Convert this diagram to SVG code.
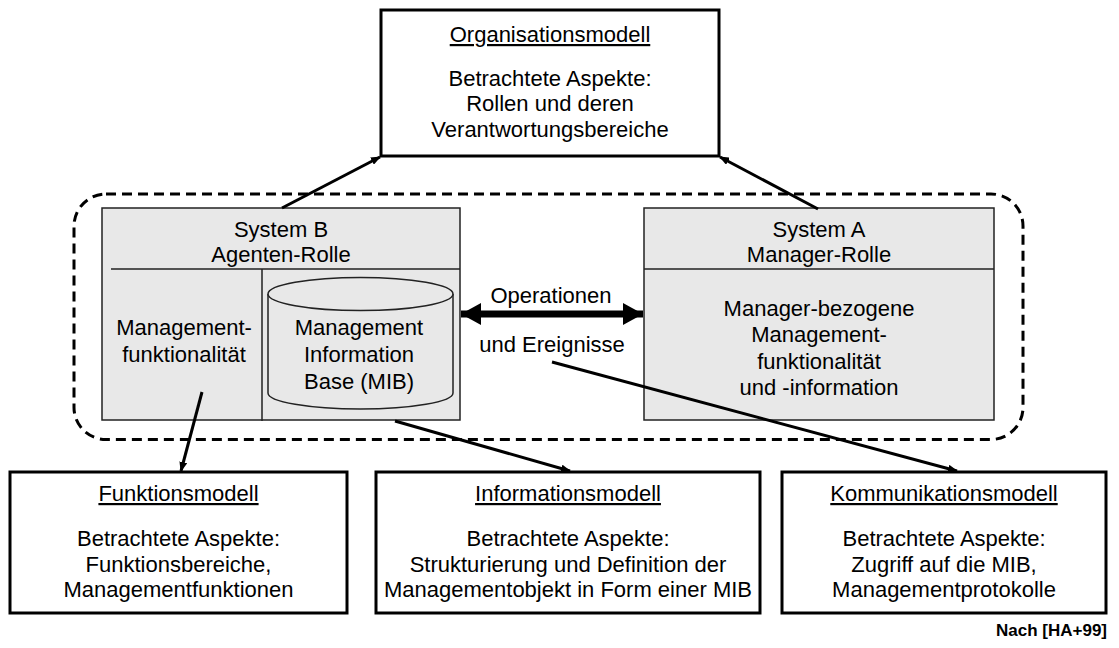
<svg xmlns="http://www.w3.org/2000/svg" width="1119" height="648" viewBox="0 0 1119 648">
  <style>
    text { font-family: "Liberation Sans", Arial, sans-serif; font-size: 22px; fill: #000; text-anchor: middle; }
    .title { text-decoration: underline; }
    .model { fill: #fff; stroke: #000; stroke-width: 3; }
    .system { fill: #e8e8e8; stroke: #222; stroke-width: 1.5; }
    .divider { stroke: #222; stroke-width: 1.5; fill: none; }
    .link { stroke: #000; stroke-width: 3; fill: none; }
    .source { font-size: 17px; font-weight: bold; text-anchor: end; }
  </style>
  <defs>
    <marker id="tip" viewBox="0 0 10 8" refX="9" refY="4" markerWidth="10" markerHeight="8" markerUnits="userSpaceOnUse" orient="auto">
      <path d="M0,0 L10,4 L0,8 Z" fill="#000"/>
    </marker>
    <marker id="bigtip" viewBox="0 0 20 22" refX="20" refY="11" markerWidth="20" markerHeight="22" markerUnits="userSpaceOnUse" orient="auto-start-reverse">
      <path d="M0,0 L20,11 L0,22 Z" fill="#000"/>
    </marker>
  </defs>

  <!-- management domain boundary -->
  <rect id="domain" x="74" y="194" width="949" height="245.5" rx="32" ry="32" fill="none" stroke="#000" stroke-width="3" stroke-dasharray="10 6"/>

  <g id="organisationsmodell">
    <rect class="model" x="381" y="10" width="338" height="146"/>
    <text class="title" x="550" y="42">Organisationsmodell</text>
    <text x="550" y="86">Betrachtete Aspekte:</text>
    <text x="550" y="111">Rollen und deren</text>
    <text x="550" y="137">Verantwortungsbereiche</text>
  </g>

  <g id="system-b">
    <rect class="system" x="102" y="208" width="358" height="212"/>
    <text x="281" y="237">System B</text>
    <text x="281" y="262">Agenten-Rolle</text>
    <line class="divider" x1="111" y1="269" x2="460" y2="269"/>
    <line class="divider" x1="262" y1="269" x2="262" y2="421"/>
    <text x="184" y="335">Management-</text>
    <text x="184" y="362">funktionalität</text>
  </g>

  <g id="mib">
    <path class="system" d="M268,294 V393 A92.5,16 0 0 0 453,393 V294"/>
    <ellipse class="system" cx="360.5" cy="294" rx="92.5" ry="16.5"/>
    <text x="359" y="335">Management</text>
    <text x="359" y="362">Information</text>
    <text x="359" y="389">Base (MIB)</text>
  </g>

  <g id="system-a">
    <rect class="system" x="644" y="208" width="350" height="212"/>
    <text x="819" y="237">System A</text>
    <text x="819" y="262">Manager-Rolle</text>
    <line class="divider" x1="644" y1="269" x2="994" y2="269"/>
    <text x="819" y="316">Manager-bezogene</text>
    <text x="819" y="342">Management-</text>
    <text x="819" y="369">funktionalität</text>
    <text x="819" y="395">und -information</text>
  </g>

  <g id="funktionsmodell">
    <rect class="model" x="10" y="472" width="337" height="141"/>
    <text class="title" x="178.5" y="501">Funktionsmodell</text>
    <text x="178.5" y="546">Betrachtete Aspekte:</text>
    <text x="178.5" y="572">Funktionsbereiche,</text>
    <text x="178.5" y="597">Managementfunktionen</text>
  </g>

  <g id="informationsmodell">
    <rect class="model" x="376" y="472" width="384" height="141"/>
    <text class="title" x="568" y="501">Informationsmodell</text>
    <text x="568" y="546">Betrachtete Aspekte:</text>
    <text x="568" y="572">Strukturierung und Definition der</text>
    <text x="568" y="597">Managementobjekt in Form einer MIB</text>
  </g>

  <g id="kommunikationsmodell">
    <rect class="model" x="782" y="472" width="324" height="141"/>
    <text class="title" x="944" y="501">Kommunikationsmodell</text>
    <text x="944" y="546">Betrachtete Aspekte:</text>
    <text x="944" y="572">Zugriff auf die MIB,</text>
    <text x="944" y="597">Managementprotokolle</text>
  </g>

  <g id="connectors">
    <line class="link" x1="282" y1="208" x2="380" y2="157" marker-end="url(#tip)"/>
    <line class="link" x1="818" y1="209" x2="720" y2="157" marker-end="url(#tip)"/>
    <line class="link" x1="202" y1="392" x2="181" y2="471" marker-end="url(#tip)"/>
    <line class="link" x1="395" y1="421" x2="570" y2="471" marker-end="url(#tip)"/>
    <line class="link" x1="552" y1="362" x2="957" y2="471" marker-end="url(#tip)"/>
    <line x1="461" y1="314" x2="643" y2="314" stroke="#000" stroke-width="7" marker-start="url(#bigtip)" marker-end="url(#bigtip)"/>
    <text x="551" y="303">Operationen</text>
    <text x="552" y="352">und Ereignisse</text>
  </g>

  <text class="source" x="1107" y="636">Nach [HA+99]</text>
</svg>
